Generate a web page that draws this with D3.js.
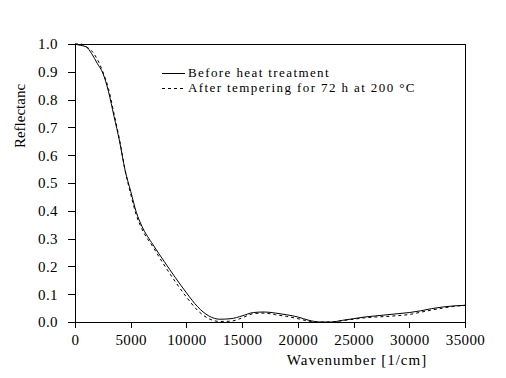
<!DOCTYPE html>
<html>
<head>
<meta charset="utf-8">
<script src="https://d3js.org/d3.v7.min.js"></script>
<style>
    body { margin: 0; padding: 0; background: #fff; }
    svg { display: block; font-family: "Liberation Serif", "DejaVu Serif", serif; }
</style>
</head>
<body>
<div id="chart"></div>
<script>
// Wavenumber grid [1/cm]
const wavenumbers = [0, 500, 1000, 1500, 2000, 2500, 3000, 3500, 4000, 4500, 5000, 5500, 6000,
    7000, 8000, 9000, 10000, 11000, 12000, 13000, 14000, 15000, 16000, 17000, 18000, 19000,
    20000, 21000, 22000, 23000, 24000, 25000, 26000, 27000, 28000, 29000, 30000, 31000,
    32000, 33000, 34000, 35000];

// Reflectance before heat treatment (solid)
const beforeValues = [1.0, 0.995, 0.99, 0.965, 0.93, 0.895, 0.83, 0.74, 0.65, 0.545, 0.47, 0.395, 0.345,
    0.278, 0.218, 0.16, 0.105, 0.055, 0.022, 0.01, 0.012, 0.022, 0.034, 0.036, 0.032, 0.026,
    0.018, 0.006, 0.0, 0.0, 0.006, 0.012, 0.018, 0.022, 0.026, 0.03, 0.034, 0.04,
    0.048, 0.054, 0.058, 0.06];

// Reflectance after tempering (dashed)
const afterValues = [1.0, 1.0, 0.99, 0.975, 0.945, 0.9, 0.84, 0.75, 0.655, 0.545, 0.46, 0.385, 0.335,
    0.27, 0.205, 0.145, 0.09, 0.042, 0.012, 0.002, 0.003, 0.015, 0.03, 0.032, 0.026, 0.02,
    0.012, 0.003, 0.0, 0.0, 0.005, 0.01, 0.015, 0.018, 0.02, 0.023, 0.027, 0.035,
    0.043, 0.05, 0.056, 0.06];

const xTicks = [0, 5000, 10000, 15000, 20000, 25000, 30000, 35000];
const yTicks = [0, 0.1, 0.2, 0.3, 0.4, 0.5, 0.6, 0.7, 0.8, 0.9, 1.0];
const legendLabels = ["Before heat treatment", "After tempering for 72 h at 200 \u00B0C"];

const width = 506, height = 378;
const margin = { left: 75, right: 41, top: 44, bottom: 56 };
const innerW = width - margin.left - margin.right;
const innerH = height - margin.top - margin.bottom;

const svg = d3.select("#chart").append("svg")
    .attr("width", width)
    .attr("height", height);

const g = svg.append("g")
    .attr("transform", `translate(${margin.left},${margin.top})`);

const x = d3.scaleLinear().domain([0, 35000]).range([0, innerW]);
const y = d3.scaleLinear().domain([0, 1]).range([innerH, 0]);

// frame (top and right)
g.append("path")
    .attr("d", `M0,0.5H${innerW + 0.5}V${innerH}`)
    .attr("fill", "none")
    .attr("stroke", "#000")
    .attr("shape-rendering", "crispEdges");

const xAxis = g.append("g")
    .attr("transform", `translate(0,${innerH})`)
    .call(d3.axisBottom(x).tickValues(xTicks).tickSize(6).tickSizeOuter(0).tickPadding(6).tickFormat(d3.format("d")));

const yAxis = g.append("g")
    .call(d3.axisLeft(y).tickValues(yTicks).tickSize(7).tickSizeOuter(0).tickPadding(10).tickFormat(d3.format(".1f")));

[xAxis, yAxis].forEach(a => {
    a.selectAll("text")
        .attr("font-size", 15)
        .attr("font-family", "Liberation Serif")
        .attr("letter-spacing", 0.4)
        .attr("fill", "#000");
    a.selectAll("line, path").attr("stroke", "#000").attr("shape-rendering", "crispEdges");
});

// axis titles
svg.append("text")
    .attr("x", 357)
    .attr("y", 365)
    .attr("text-anchor", "middle")
    .attr("font-size", 15)
    .attr("letter-spacing", 1)
    .text("Wavenumber [1/cm]");

svg.append("text")
    .attr("transform", "translate(25,116) rotate(-90)")
    .attr("text-anchor", "middle")
    .attr("font-size", 15)
    .text("Reflectanc");

// curves
const line = d3.line()
    .x(d => x(d[0]))
    .y(d => y(d[1]))
    .curve(d3.curveMonotoneX);

g.append("path")
    .datum(wavenumbers.map((w, i) => [w, beforeValues[i]]))
    .attr("fill", "none")
    .attr("stroke", "#000")
    .attr("stroke-width", 1)
    .attr("d", line);

g.append("path")
    .datum(wavenumbers.map((w, i) => [w, afterValues[i]]))
    .attr("fill", "none")
    .attr("stroke", "#000")
    .attr("stroke-width", 1)
    .attr("stroke-dasharray", "3,3")
    .attr("d", line);

// legend
const legend = svg.append("g").attr("transform", "translate(162,73)");
legendLabels.forEach((label, i) => {
    legend.append("line")
        .attr("x1", 0).attr("x2", 23)
        .attr("y1", i * 15 + 0.5).attr("y2", i * 15 + 0.5)
        .attr("stroke", "#000")
        .attr("stroke-dasharray", i === 1 ? "3,3" : null);
    legend.append("text")
        .attr("x", 26)
        .attr("y", i * 15 + 4)
        .attr("font-size", 13)
        .attr("letter-spacing", 1.4)
        .text(label);
});
</script>
</body>
</html>
